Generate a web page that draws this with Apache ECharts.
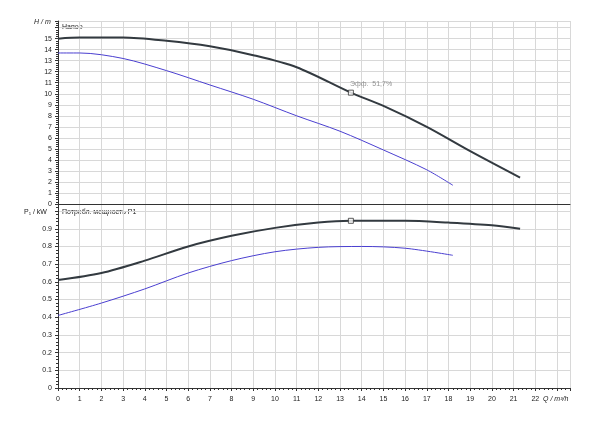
<!DOCTYPE html>
<html><head><meta charset="utf-8">
<script src="https://cdn.jsdelivr.net/npm/echarts@6/dist/echarts.min.js"></script>
<style>html,body{margin:0;padding:0;background:#fff}#main{width:600px;height:424px}</style>
</head><body><div id="main"></div>
<script>
// Q, m³/h
const head_pump = [[0,15.0],[1,15.1],[3,15.1],[5,14.8],[7,14.3],[9,13.5],[11,12.4],[13.5,10.1],[15,8.9],[17,7.0],[19,4.8],[21.3,2.4]];
const head_min = [[0,13.7],[1,13.7],[3,13.2],[5,12.1],[7,10.8],[9,9.5],[11,8.0],[13,6.6],[15,4.9],[17,3.1],[18.2,1.7]];
const power_pump = [[0,0.61],[2,0.65],[4,0.72],[6,0.8],[8,0.86],[10,0.905],[12,0.935],[13.5,0.945],[16,0.945],[18,0.935],[20,0.92],[21.3,0.9]];
const power_min = [[0,0.41],[2,0.48],[4,0.56],[6,0.65],[8,0.72],[10,0.77],[12,0.795],[14,0.8],[16,0.79],[18.2,0.75]];
const duty_point = [13.5, 10.1];
const duty_power = [13.5, 0.945];

const font = 'Arial, "Liberation Sans", sans-serif';
const gridLine = { show: true, lineStyle: { color: '#d8d8d8' } };
const xAxisBase = {
    type: 'value', min: 0, max: 23.6, interval: 1,
    axisLine: { lineStyle: { color: '#333' } },
    axisTick: { length: 3, lineStyle: { color: '#333' } },
    minorTick: { show: true, splitNumber: 5, length: 2 },
    splitLine: gridLine
};
const yBase = {
    type: 'value',
    axisLine: { show: true, lineStyle: { color: '#333' } },
    axisTick: { show: true, length: 3, lineStyle: { color: '#333' } },
    minorTick: { show: true, splitNumber: 5, length: 2 },
    splitLine: gridLine,
    axisLabel: { fontSize: 7, color: '#222', fontFamily: font, margin: 6 }
};
const lineStyle = (c, w) => ({ type: 'line', smooth: 0.3, showSymbol: false, lineStyle: { color: c, width: w } });

const option = {
    animation: false,
    grid: [
        { left: 58, right: 30, top: 21, height: 183 },
        { left: 58, right: 30, top: 204, height: 184 }
    ],
    xAxis: [
        Object.assign({}, xAxisBase, { gridIndex: 0, axisLabel: { show: false }, axisTick: { show: false }, minorTick: { show: false } }),
        Object.assign({}, xAxisBase, {
            gridIndex: 1, name: 'Q / m³/h', nameGap: -30, nameLocation: 'end',
            nameTextStyle: { fontSize: 7, fontStyle: 'italic', fontFamily: font, color: '#222', verticalAlign: 'top', padding: [8, 0, 0, 0] },
            axisLabel: { fontSize: 7, color: '#222', fontFamily: font, formatter: v => v > 22 ? '' : v }
        })
    ],
    yAxis: [
        Object.assign({}, yBase, { gridIndex: 0, min: 0, max: 16.6, interval: 1,
            axisLabel: Object.assign({}, yBase.axisLabel, { formatter: v => v >= 16 ? '' : v }) }),
        Object.assign({}, yBase, { gridIndex: 1, min: 0, max: 1.04, interval: 0.1,
            axisLabel: Object.assign({}, yBase.axisLabel, { formatter: v => v > 0.95 ? '' : (v === 0 ? '0' : v.toFixed(1)) }) })
    ],
    graphic: [
        { type: 'text', left: 34, top: 19, style: { text: 'H / m', font: 'italic 7px ' + font, fill: '#222' } },
        { type: 'text', left: 62, top: 24, style: { text: 'Напор', font: '7px ' + font, fill: '#222' } },
        { type: 'text', left: 24, top: 209, style: { text: 'P₁ / kW', font: '7px ' + font, fill: '#222' } },
        { type: 'text', left: 62, top: 209, style: { text: 'Потребл. мощность P1', font: '7px ' + font, fill: '#222' } }
    ],
    series: [
        Object.assign(lineStyle('#333a40', 2), { xAxisIndex: 0, yAxisIndex: 0, data: head_pump }),
        Object.assign(lineStyle('#4a3fd0', 1), { xAxisIndex: 0, yAxisIndex: 0, data: head_min }),
        Object.assign(lineStyle('#333a40', 2), { xAxisIndex: 1, yAxisIndex: 1, data: power_pump }),
        Object.assign(lineStyle('#4a3fd0', 1), { xAxisIndex: 1, yAxisIndex: 1, data: power_min }),
        { type: 'scatter', xAxisIndex: 0, yAxisIndex: 0, data: [duty_point], symbol: 'rect', symbolSize: 5, z: 5,
          itemStyle: { color: '#fff', borderColor: '#333', borderWidth: 1 },
          label: { show: true, position: [2, -9], formatter: 'Эфф.  51,7%', fontSize: 7, color: '#777', fontFamily: font } },
        { type: 'scatter', xAxisIndex: 1, yAxisIndex: 1, data: [duty_power], symbol: 'rect', symbolSize: 5, z: 5,
          itemStyle: { color: '#fff', borderColor: '#333', borderWidth: 1 } }
    ]
};
const chart = echarts.init(document.getElementById('main'));
chart.setOption(option);
</script></body></html>
